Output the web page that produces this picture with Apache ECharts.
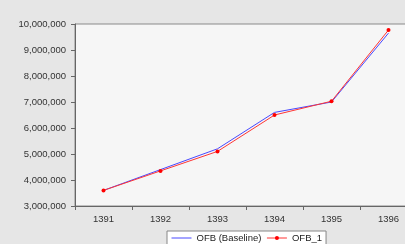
<!DOCTYPE html>
<html>
<head>
<meta charset="utf-8">
<script src="https://cdn.jsdelivr.net/npm/echarts@6/dist/echarts.min.js"></script>
<style>
  html, body { margin: 0; padding: 0; background: #e6e6e6; }
  #chart { width: 405px; height: 244px; }
</style>
</head>
<body>
<div id="chart"></div>
<script>
// years (Persian calendar)
var years = ['1391', '1392', '1393', '1394', '1395', '1396'];
var baseline = [3600000, 4400000, 5200000, 6600000, 7000000, 9650000];
var ofb1 = [3600000, 4350000, 5100000, 6500000, 7030000, 9770000];

var chart = echarts.init(document.getElementById('chart'));
var option = {
    backgroundColor: '#e6e6e6',
    animation: false,
    textStyle: { fontFamily: 'Liberation Sans, Arial, sans-serif' },
    grid: {
        left: 75,
        right: -12,
        top: 24,
        bottom: 38,
        outerBoundsMode: 'none',
        show: true,
        backgroundColor: '#f6f6f6',
        borderColor: '#8a8a8a',
        borderWidth: 1
    },
    legend: {
        bottom: -4,
        left: 167,
        itemWidth: 20,
        itemHeight: 5,
        itemGap: 5,
        padding: [2, 4, 5, 4],
        backgroundColor: '#ffffff',
        borderColor: '#888',
        borderWidth: 1,
        borderRadius: 0,
        lineStyle: { width: 1 },
        textStyle: { fontSize: 9.5, color: '#222' },
        data: [
            { name: 'OFB (Baseline)', itemStyle: { opacity: 0 } },
            { name: 'OFB_1' }
        ]
    },
    xAxis: {
        type: 'category',
        data: years,
        boundaryGap: true,
        axisLine: { lineStyle: { color: '#666', width: 1 } },
        axisTick: { show: true, length: 4, lineStyle: { color: '#666' } },
        axisLabel: { fontSize: 9.5, color: '#333', margin: 8 },
        splitLine: { show: false }
    },
    yAxis: {
        type: 'value',
        min: 3000000,
        max: 10000000,
        interval: 1000000,
        axisLine: { show: true, lineStyle: { color: '#666', width: 1 } },
        axisTick: { show: true, length: 4, lineStyle: { color: '#666' } },
        axisLabel: {
            fontSize: 9.5,
            color: '#333',
            margin: 9,
            formatter: function (v) { return v.toLocaleString('en-US'); }
        },
        splitLine: { show: false }
    },
    series: [
        {
            name: 'OFB (Baseline)',
            type: 'line',
            data: baseline,
            showSymbol: false,
            symbol: 'none',
            lineStyle: { color: '#4848ff', width: 1 },
            itemStyle: { color: '#4848ff' }
        },
        {
            name: 'OFB_1',
            type: 'line',
            data: ofb1,
            symbol: 'circle',
            symbolSize: 4,
            lineStyle: { color: '#ff3535', width: 1 },
            itemStyle: { color: '#ff0000' }
        }
    ]
};
chart.setOption(option);
</script>
</body>
</html>
